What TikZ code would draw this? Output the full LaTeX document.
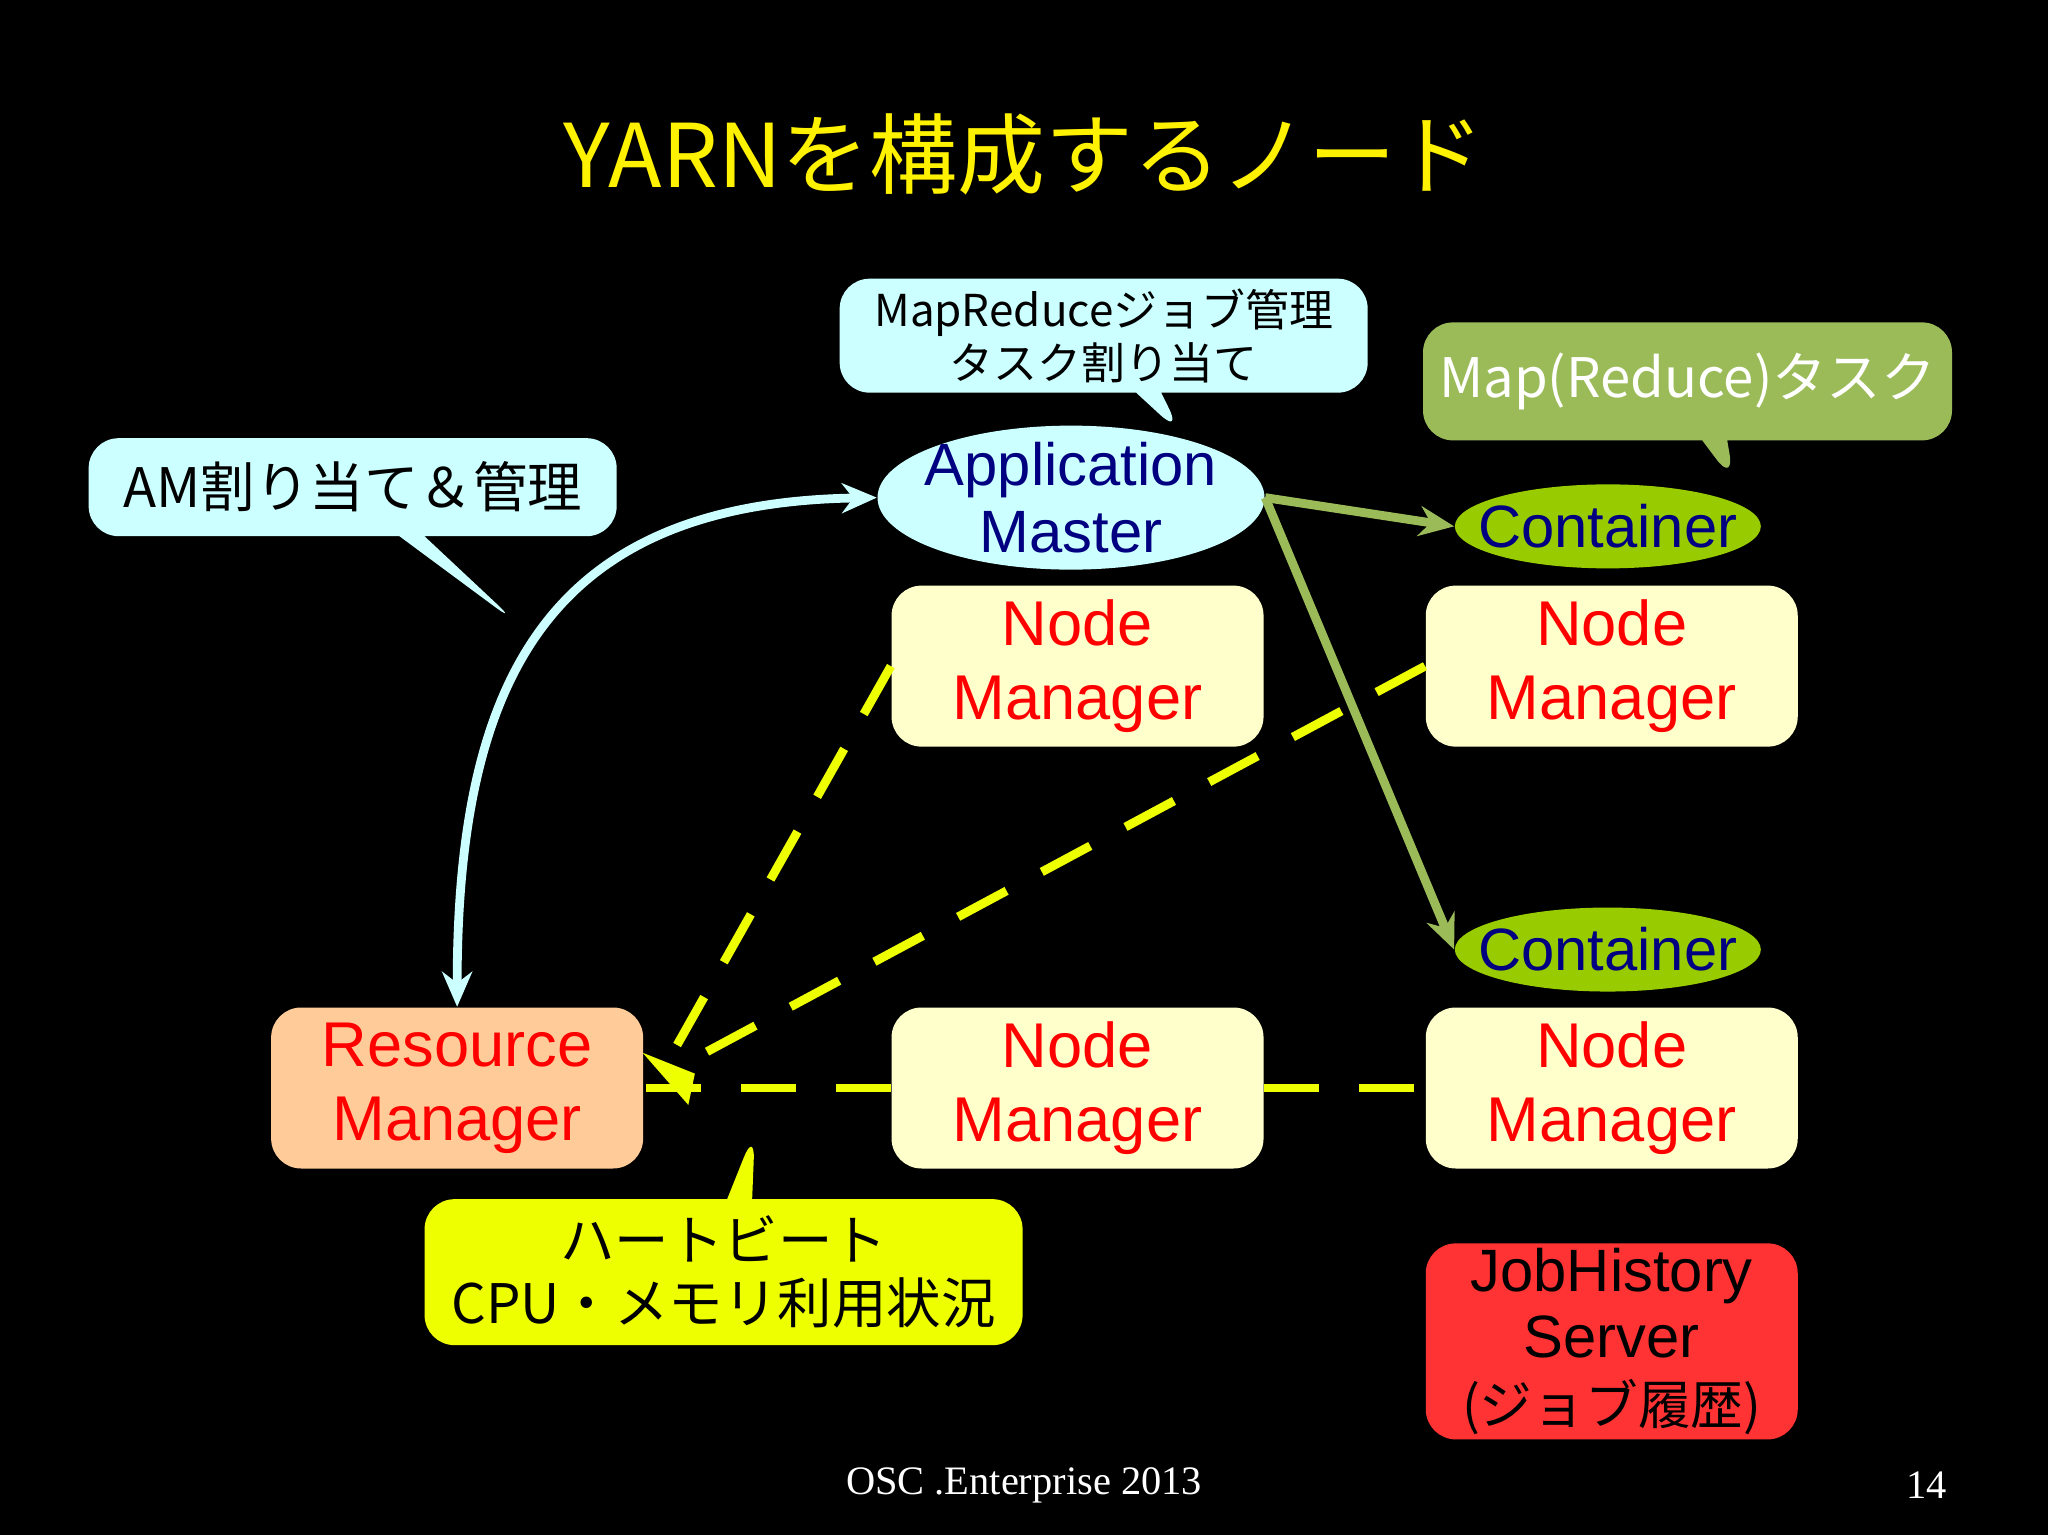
\documentclass[tikz,border=0pt]{standalone}
\usepackage{fontspec}
\setmainfont{Liberation Sans}
\newfontfamily\cjk{Noto Sans CJK JP}
\newfontfamily\footfont{Liberation Serif}
\usetikzlibrary{arrows.meta,shapes.geometric,shapes.callouts}
\definecolor{nmfill}{HTML}{FFFFCC}
\definecolor{rmfill}{HTML}{FFCC99}
\definecolor{amfill}{HTML}{CCFFFF}
\definecolor{cofill}{HTML}{99CC00}
\definecolor{mrfill}{HTML}{9BBB59}
\definecolor{hbfill}{HTML}{EEFF00}
\definecolor{jhfill}{HTML}{FF3333}
\definecolor{navy}{HTML}{000080}
\begin{document}
\begin{tikzpicture}
  [x=0.01306cm,y=-0.01306cm,
   mgr/.style={rectangle,rounded corners=0.3cm,minimum width=3.72cm,minimum height=1.61cm,
     align=center,font=\fontsize{18}{21}\selectfont,text=red,inner sep=0pt},
   cont/.style={ellipse,fill=cofill,minimum width=3.06cm,minimum height=0.84cm,
     inner xsep=-0.3cm,inner ysep=-0.05cm,text=navy,font=\fontsize{17}{20}\selectfont},
   note/.style={rectangle callout,rounded corners=0.3cm,align=center,inner sep=0pt},
   beat/.style={draw=hbfill,line width=2.5pt,dash pattern=on 0.55cm off 0.4cm}]
  \fill[black] (0,0) rectangle (1568,1175);
  \node[text=yellow,font=\fontsize{25}{28}\cjk] (title) at (784,118) {YARNを構成するノード};
  % nodes
  \node[ellipse,fill=amfill,minimum width=3.87cm,minimum height=1.44cm,inner xsep=-0.15cm,
    inner ysep=-0.12cm,align=center,text=navy,font=\fontsize{17}{19}\selectfont] (am) at (820,381) {Application\\Master};
  \node[cont] (c1) at (1231,403) {Container};
  \node[cont] (c2) at (1231,727) {Container};
  \node[mgr,fill=nmfill] (nm1) at (825,510) {Node\\Manager};
  \node[mgr,fill=nmfill] (nm2) at (1234,510) {Node\\Manager};
  \node[mgr,fill=nmfill] (nm3) at (825,833) {Node\\Manager};
  \node[mgr,fill=nmfill] (nm4) at (1234,833) {Node\\Manager};
  \node[mgr,fill=rmfill] (rm) at (350,833) {Resource\\Manager};
  \node[mgr,fill=jhfill,text=black,minimum height=1.96cm,font=\fontsize{17}{19}\selectfont]
    (jh) at (1234,1027) {JobHistory\\Server\\{\cjk\fontsize{15}{17}\selectfont (ジョブ履歴)}};
  % callouts
  \node[note,fill=amfill,minimum width=5.28cm,minimum height=1.14cm,
    callout absolute pointer={(905,333)},font=\fontsize{12.5}{15}\cjk] (mrnote) at (845,257)
    {MapReduceジョブ管理\\タスク割り当て};
  \node[note,fill=mrfill,text=white,minimum width=5.29cm,minimum height=1.18cm,
    callout absolute pointer={(1328,370)},font=\fontsize{15.5}{18}\cjk] (tasknote) at (1292,292)
    {Map(Reduce)タスク};
  \node[note,fill=amfill,minimum width=5.28cm,minimum height=0.98cm,
    callout absolute pointer={(397,478)},font=\fontsize{15.5}{18}\cjk] (amnote) at (270,373)
    {AM割り当て＆管理};
  \node[note,fill=hbfill,minimum width=5.98cm,minimum height=1.46cm,
    callout absolute pointer={(578,865)},font=\fontsize{15.5}{18}\cjk] (hbnote) at (554,974)
    {ハートビート\\CPU・メモリ利用状況};
  % connectors
  \draw[amfill,line width=2.5pt,{Stealth[length=0.35cm,width=0.3cm]}-{Stealth[length=0.35cm,width=0.3cm]}]
    (rm.north) .. controls (350,520) and (420,385) .. (am.west);
  \draw[mrfill,line width=2.5pt,-{Stealth[length=0.35cm,width=0.3cm]}] (am.east) -- (c1.west);
  \draw[mrfill,line width=2.5pt,-{Stealth[length=0.35cm,width=0.3cm]}] (am.east) -- (c2.west);
  \draw[beat] (nm1.west) -- (510,815);
  \draw[beat] (nm2.west) -- (510,822);
  \draw[beat] (nm3.west) -- (rm.east);
  \draw[beat] (nm3.east) -- (nm4.west);
  \fill[hbfill] (492,806) -- (532,822) -- (527,846) -- cycle;
  % footer
  \node[text=white,font=\fontsize{11.5}{14}\footfont] (foot) at (784,1137) {OSC .Enterprise 2013};
  \node[text=white,font=\fontsize{11.5}{14}\footfont] (page) at (1475,1137) {14};
\end{tikzpicture}
\end{document}
